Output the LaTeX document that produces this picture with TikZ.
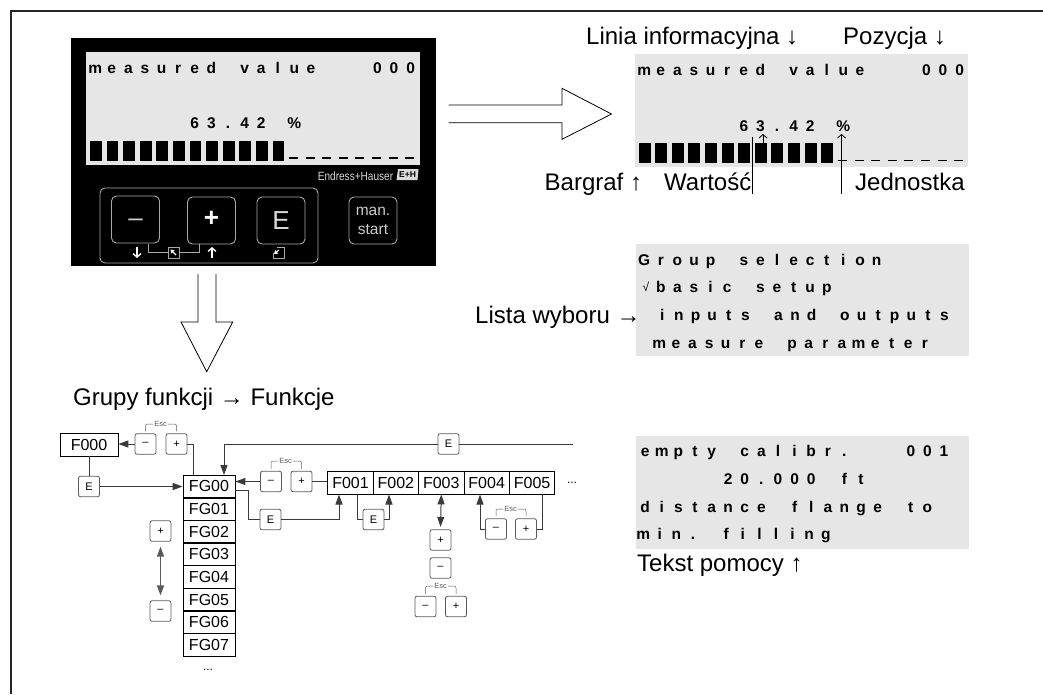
\documentclass[tikz,border=0pt]{standalone}
\usepackage{fontspec}
\setmainfont{Liberation Sans}
\usetikzlibrary{arrows.meta,calc}
\makeatletter
\newlength\lcdpitch \setlength\lcdpitch{16.6pt}
\newcommand\lcdline[1]{\@tfor\lcdc:=#1\do{\makebox[\lcdpitch][c]{\lcdc}}}
\makeatother
\definecolor{lcdgrey}{HTML}{E6E6E6}
\definecolor{wirecol}{HTML}{3A3A3A}
\definecolor{keycol}{HTML}{5A5A5A}
\definecolor{panelline}{HTML}{A8A8A8}
\tikzset{
  x=1pt,y=-1pt,
  lcdrow/.style={anchor=base west,inner sep=0pt,font=\fontsize{15.5}{16}\selectfont\bfseries},
  lcdlcd/.style={fill=lcdgrey,draw=none},
  biglabel/.style={anchor=base west,inner sep=0pt,font=\fontsize{24}{26}\selectfont},
  cell/.style={draw=black,line width=.8pt,inner sep=0pt,font=\fontsize{16}{18}\selectfont,minimum height=23pt},
  fgcell/.style={cell,minimum width=52pt},
  fncell/.style={cell,minimum width=45.4pt},
  keybox/.style={draw=keycol,line width=.8pt,fill=white,rounded corners=2pt,minimum width=21pt,minimum height=20.5pt,inner sep=0pt,font=\fontsize{11}{12}\selectfont},
  esclabel/.style={inner sep=1pt,text=keycol,font=\fontsize{7.5}{8}\selectfont},
  escbr/.style={draw=keycol,line width=.5pt,rounded corners=2pt},
  wire/.style={draw=wirecol,line width=1pt},
  thickwire/.style={draw=keycol,line width=1.5pt},
  tip/.style={-{Triangle[length=10pt,width=7pt]}},
  twotip/.style={{Triangle[length=10pt,width=7pt]}-{Triangle[length=10pt,width=7pt]}},
  pkey/.style={draw=panelline,line width=.9pt,rounded corners=5pt,inner sep=0pt,minimum width=48pt,minimum height=47pt,text=white},
  blockarrow/.style={draw=black,line width=.8pt,line join=miter},
  barb/.style={-{Straight Barb[length=3.5pt,width=8pt]}},
}
\begin{document}
\begin{tikzpicture}
\useasboundingbox (0,0) rectangle (1043,694);
% page frame
\coordinate (frameTR) at (1043,11);
\coordinate (frameTL) at (11,11);
\coordinate (frameBL) at (11,694);
\draw[line width=1.3pt,black!85] (frameTR) -- (frameTL) -- (frameBL);

% instrument panel
\fill[black] (71,38) rectangle (436,266);
\node[lcdlcd,minimum width=334pt,minimum height=113pt,inner sep=0pt] (lcd1) at (253,108.5) {};
\node[lcdrow] (l1a) at (86.7,73.5) {\lcdline{measured~value~~~000}};
\node[lcdrow] (l1b) at (86.7,128.5) {\lcdline{~~~~~~63.42~{\%}}};
\foreach \i in {0,...,11} \fill[black] ({90+16.6*\i},141) rectangle +(11.7,20);
\foreach \i in {0,...,7} \fill[black] ({289+16.6*\i},157.3) rectangle +(9,1.6);
\node[inner sep=0pt,text=white!85!black,xscale=.84,font=\fontsize{12}{12}\selectfont] (ehname) at (355.5,176) {Endress+Hauser};
\fill[white!85!black] (398,169) -- (418.5,169) -- (417.5,180) -- (396.5,180) -- cycle;
\node[inner sep=0pt,text=black,font=\fontsize{8.5}{9}\selectfont\bfseries] (ehlogo) at (407.5,174.5) {E+H};
\node[draw=panelline,line width=.9pt,rounded corners=5pt,minimum width=218pt,minimum height=75pt,inner sep=0pt] (kframe) at (209,225.5) {};
\node[pkey] (pminus) at (135.5,219.5) {};
\node[inner sep=0pt,text=panelline!60!white,font=\fontsize{26}{26}\selectfont] (pminust) at (135.5,222.5) {–};
\node[pkey] (pplus) at (211.5,220.5) {};
\node[inner sep=0pt,text=white,font=\fontsize{26}{26}\selectfont\bfseries] (pplust) at (211.5,219) {+};
\node[pkey,font=\fontsize{26}{26}\selectfont,text=white!85!black] (pe) at (281,220.5) {E};
\node[pkey,align=center,text=white!80!black,font=\fontsize{15.5}{19}\selectfont] (pman) at (373,220.5) {man.\\start};
\node[draw=panelline,line width=.9pt,minimum width=11pt,minimum height=11pt,inner sep=0pt] (pbox) at (173.5,252.5) {};
\coordinate (pmb) at (148,243.5);
\coordinate (ppb) at (199,244);
\draw[panelline,line width=.9pt] (pmb) |- (pbox.west);
\draw[panelline,line width=.9pt] (ppb) |- (pbox.east);
\coordinate (pa1) at (137,247);
\coordinate (pa2) at (137,258);
\coordinate (pa3) at (212,258);
\coordinate (pa4) at (212,247);
\draw[white,line width=1.4pt,-{Straight Barb[length=3.5pt,width=8pt]}] (pa1) -- (pa2);
\draw[white,line width=1.4pt,-{Straight Barb[length=3.5pt,width=8pt]}] (pa3) -- (pa4);
\coordinate (bi1) at (170.5,249.5);
\coordinate (bi2) at (176,255);
\draw[white,line width=1.1pt,{Triangle[length=3.5pt,width=4.5pt]}-] (bi1) -- (bi2);
\draw[panelline,line width=1pt] (277,247.5) -- (284,247.5) -- (284,258) -- (273,258) -- (273,252.5);
\coordinate (ei1) at (279,250);
\coordinate (ei2) at (274,254);
\draw[white,line width=1pt,{Triangle[length=3.5pt,width=4.5pt]}-] (ei2) -- (ei1);

% block arrows
\coordinate (ra1) at (448.5,105); \coordinate (ra2) at (562,105); \coordinate (ra3) at (562,88.3);
\coordinate (ra4) at (611.5,114); \coordinate (ra5) at (562,139.3); \coordinate (ra6) at (562,122.7); \coordinate (ra7) at (448.5,122.7);
\draw[blockarrow] (ra1) -- (ra2) -- (ra3) -- (ra4) -- (ra5) -- (ra6) -- (ra7);
\coordinate (da1) at (198,274); \coordinate (da2) at (198,322); \coordinate (da3) at (181,322);
\coordinate (da4) at (206.7,371.7); \coordinate (da5) at (232.7,322); \coordinate (da6) at (216,322); \coordinate (da7) at (216,274);
\draw[blockarrow] (da1) -- (da2) -- (da3) -- (da4) -- (da5) -- (da6) -- (da7);

% right LCD
\node[lcdlcd,minimum width=333pt,minimum height=113pt,inner sep=0pt] (lcd2) at (801.5,110.5) {};
\node[lcdrow] (l2a) at (635.7,75) {\lcdline{measured~value~~~000}};
\node[lcdrow] (l2b) at (635.7,131) {\lcdline{~~~~~~63.42~{\%}}};
\foreach \i in {0,...,11} \fill[black] ({638.5+16.6*\i},143) rectangle +(12,20);
\foreach \i in {0,...,7} \fill[black] ({838+16.6*\i},159.5) rectangle +(9,1.6);
\node[biglabel] (t1) at (586,44) {Linia informacyjna ↓};
\node[biglabel] (t2) at (843,44) {Pozycja ↓};
\node[biglabel] (t3) at (544.5,190) {Bargraf ↑};
\node[biglabel] (t4) at (664,190) {Wartość};
\node[biglabel] (t5) at (855,190) {Jednostka};
\coordinate (w1) at (752.5,194); \coordinate (w2) at (752.5,137);
\draw[black,line width=.9pt] (w1) -- (w2);
\coordinate (w3) at (763,144); \coordinate (w4) at (763,134);
\draw[black,line width=.8pt,barb] (w3) -- (w4);
\coordinate (j1) at (841.5,194); \coordinate (j2) at (841.5,134);
\draw[black,line width=.8pt,barb] (j1) -- (j2);

% selection LCD
\node[lcdlcd,minimum width=333pt,minimum height=112pt,inner sep=0pt] (lcd3) at (802.5,300) {};
\node[lcdrow] (l3a) at (635.7,265.5) {\lcdline{Group~selection}};
\node[inner sep=0pt,font=\fontsize{12}{12}\selectfont] (l3chk) at (646,287) {√};
\node[lcdrow] (l3b) at (652.3,292.5) {\lcdline{basic~setup}};
\node[lcdrow] (l3c) at (653.8,320.5) {\lcdline{inputs~and~outputs}};
\node[lcdrow] (l3d) at (650.8,348.5) {\lcdline{measure~parameter}};
\node[biglabel] (t6) at (475,323) {Lista wyboru →};

% help LCD
\node[lcdlcd,minimum width=333pt,minimum height=113pt,inner sep=0pt] (lcd4) at (802.5,492.5) {};
\node[lcdrow] (l4a) at (636.7,456.5) {\lcdline{empty~calibr.~~~001}};
\node[lcdrow] (l4b) at (636.7,484.5) {\lcdline{~~~~~20.000~ft}};
\node[lcdrow] (l4c) at (636.7,512.5) {\lcdline{distance~flange~to}};
\node[lcdrow] (l4d) at (634.7,539.5) {\lcdline{min.~filling}};
\node[biglabel] (t7) at (637,571.5) {Tekst pomocy ↑};
\node[biglabel] (t8) at (73,405) {Grupy funkcji → Funkcje};

% function tree
\node[cell,minimum width=58pt] (f000) at (89,444.5) {F000};
\foreach \n [count=\i from 0] in {FG00,FG01,FG02,FG03,FG04,FG05,FG06,FG07}
  \node[fgcell] (fg\i) at (209,{486.4+22.65*\i}) {\n};
\foreach \n/\k [count=\i from 1] in {F001/1,F002/2,F003/3,F004/4,F005/5}
  \node[fncell] (fn\k) at ({350.5+45.4*(\i-1)},482.5) {\n};
\node[inner sep=0pt,font=\fontsize{12}{12}\selectfont] (dotsa) at (208,670) {...};
\node[inner sep=0pt,font=\fontsize{12}{12}\selectfont] (dotsb) at (572,483) {...};

% keys
\node[keybox] (k1m) at (145.5,444) {–};
\node[keybox] (k1p) at (176.5,444) {+};
\node[esclabel] (e1) at (160.5,424) {Esc};
\node[keybox] (kE0) at (89,486.5) {E};
\node[keybox] (k2m) at (271,481.5) {–};
\node[keybox] (k2p) at (301.5,481.5) {+};
\node[esclabel] (e2) at (285.5,461) {Esc};
\node[keybox] (kE1) at (270.5,519.5) {E};
\node[keybox] (kEt) at (448.5,444) {E};
\node[keybox] (kE2) at (373.5,519.5) {E};
\node[keybox] (k3p) at (160.5,531) {+};
\node[keybox] (k3m) at (160.5,611) {–};
\node[keybox] (k4p) at (440.5,540) {+};
\node[keybox] (k4m) at (440.5,568) {–};
\node[keybox] (k5m) at (425.5,606.5) {–};
\node[keybox] (k5p) at (456,606.5) {+};
\node[esclabel] (e5) at (440.5,586) {Esc};
\node[keybox] (k6m) at (496,529) {–};
\node[keybox] (k6p) at (526,529) {+};
\node[esclabel] (e6) at (510.5,509) {Esc};

% Esc brackets
\draw[escbr,shorten <=2pt] (k1m.north) |- (e1.west);
\draw[escbr,shorten <=2pt] (k1p.north) |- (e1.east);
\draw[escbr,shorten <=2pt] (k2m.north) |- (e2.west);
\draw[escbr,shorten <=2pt] (k2p.north) |- (e2.east);
\draw[escbr,shorten <=2pt] (k5m.north) |- (e5.west);
\draw[escbr,shorten <=2pt] (k5p.north) |- (e5.east);
\draw[escbr,shorten <=2pt] (k6m.north) |- (e6.west);
\draw[escbr,shorten <=2pt] (k6p.north) |- (e6.east);

% connectors
\draw[wire,tip] (k1m.west) -- (f000.east |- k1m.west);
\coordinate (c1) at (193,475);
\draw[wire] (k1p.east) -| (c1);
\draw[wire] (f000) -- (kE0);
\draw[wire,line width=1.4pt,tip] (kE0.east) -- (fg0.west |- kE0.east);
\coordinate (c2) at (573,444);
\coordinate (c3) at (224,475);
\draw[wire] (c2) -- (kEt.east);
\draw[wire,tip] (kEt.west) -| (c3);
\draw[wire,tip] (k2m.west) -- (fg0.east |- k2m.west);
\draw[wire] (k2p.east) -- (fn1.west |- k2p.east);
\coordinate (c4) at (235,490);
\coordinate (c5) at (248,490);
\draw[wire] (c4) -- (c5) |- (kE1.west);
\coordinate (c6) at (339,494.5);
\draw[wire,tip] (kE1.east) -| (c6);
\coordinate (c7) at (357,494);
\draw[wire] (c7) |- (kE2.west);
\coordinate (c8) at (389,494.5);
\draw[wire,tip] (kE2.east) -| (c8);
\draw[wire,twotip] (fn3.south) -- ($(k4p.north)+(0,-2.5)$);
\coordinate (c9) at (480,494.5);
\draw[wire,tip] (k6m.west) -| (c9);
\coordinate (c10) at (542,494);
\draw[wire] (k6p.east) -| (c10);
\draw[thickwire,twotip] ($(k3p.south)+(0,5)$) -- ($(k3m.north)+(0,-5)$);
\end{tikzpicture}
\end{document}
